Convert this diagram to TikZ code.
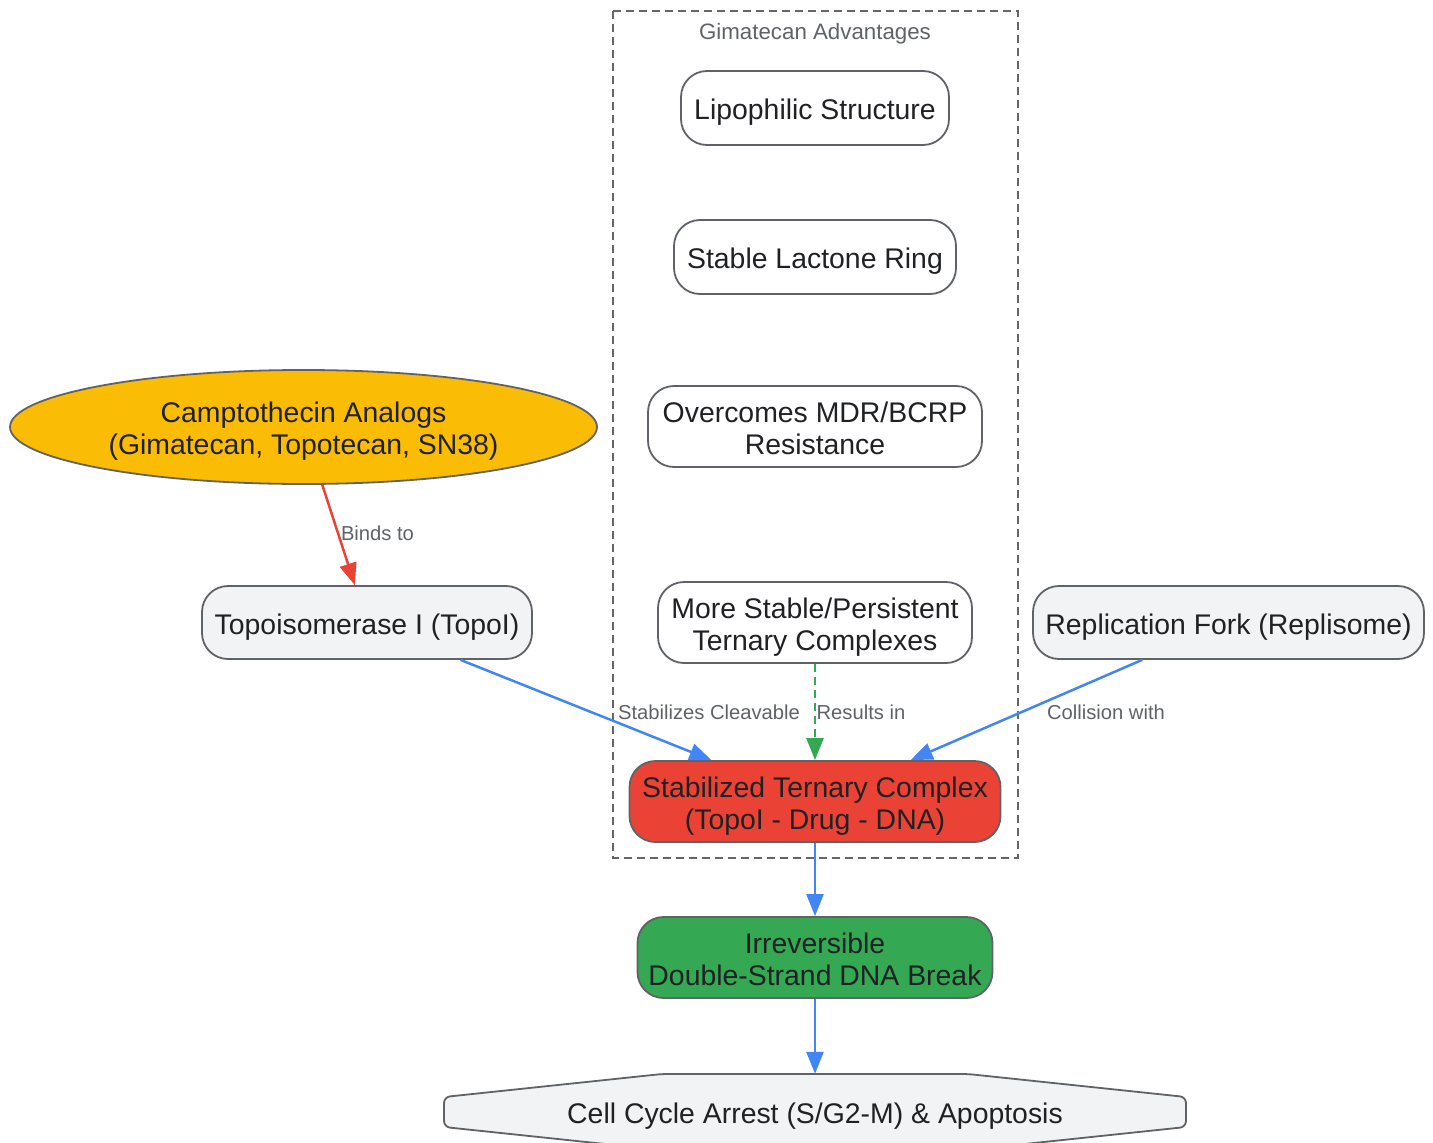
\documentclass[tikz,border=0pt]{standalone}
\usepackage{fontspec}
\setmainfont{Liberation Sans}
\usetikzlibrary{arrows.meta,shapes.geometric}
\definecolor{bordergray}{HTML}{5F6368}
\definecolor{textdark}{HTML}{202124}
\definecolor{lightfill}{HTML}{F1F3F4}
\definecolor{gred}{HTML}{EA4335}
\definecolor{gblue}{HTML}{4285F4}
\definecolor{ggreen}{HTML}{34A853}
\definecolor{gyellow}{HTML}{FABC05}
\definecolor{clustergray}{HTML}{666666}
\newcommand\dn[1]{\raisebox{-5.5pt}[\height][\depth]{\begin{tabular}{@{}c@{}}#1\end{tabular}}}
\begin{document}
\begin{tikzpicture}[x=1pt,y=-1pt,
  box/.style={draw=bordergray, line width=1.8pt, rounded corners=26pt, align=center,
    inner sep=0pt, text=textdark, font=\fontsize{28.4}{32}\selectfont},
  oval/.style={ellipse, draw=bordergray, line width=1.8pt, align=center, inner sep=0pt,
    text=textdark, font=\fontsize{28.4}{32}\selectfont},
  lbl/.style={text=bordergray, font=\fontsize{20.2}{24}\selectfont, inner sep=0pt},
  conn/.style={line width=2.5pt, -{Triangle[length=22pt,width=17pt]}},
  dashconn/.style={conn, dash pattern=on 8pt off 5pt},
]
\useasboundingbox (0,0) rectangle (1433,1143);

% cluster
\draw[clustergray, line width=1.8pt, dash pattern=on 8pt off 5pt] (613,11) rectangle (1018,858);
\node[text=bordergray, font=\fontsize{22.3}{26}\selectfont, inner sep=0pt] (clusterlabel) at (815,33.5) {Gimatecan Advantages};

% nodes
\node[box, fill=white, minimum width=268, minimum height=74] (lip) at (815,108) {\dn{Lipophilic Structure}};
\node[box, fill=white, minimum width=282, minimum height=74] (lac) at (815,257) {\dn{Stable Lactone Ring}};
\node[box, fill=white, minimum width=334, minimum height=81] (mdr) at (815,426.5) {\dn{Overcomes MDR/BCRP\\Resistance}};
\node[box, fill=white, minimum width=314, minimum height=81] (pers) at (815,622.5) {\dn{More Stable/Persistent\\Ternary Complexes}};
\node[oval, fill=gyellow, minimum width=587, minimum height=114] (cpt) at (303.5,427) {\dn{Camptothecin Analogs\\(Gimatecan, Topotecan, SN38)}};
\node[box, fill=lightfill, minimum width=330, minimum height=73] (topo) at (367,622.5) {\dn{Topoisomerase I (TopoI)}};
\node[box, fill=lightfill, minimum width=391, minimum height=73] (rep) at (1228.5,622.5) {\dn{Replication Fork (Replisome)}};
\node[box, fill=gred, minimum width=371, minimum height=81] (stc) at (815,801.5) {\dn{Stabilized Ternary Complex\\(TopoI - Drug - DNA)}};
\node[box, fill=ggreen, minimum width=355, minimum height=81] (dsb) at (815,957.5) {\dn{Irreversible\\Double-Strand DNA Break}};

% hexagon
\draw[draw=bordergray, fill=lightfill, line width=1.8pt, rounded corners=6pt]
  (662,1074) -- (968,1074) -- (1186,1097) -- (1186,1127) -- (968,1150) -- (662,1150) -- (444,1127) -- (444,1097) -- cycle;
\node[text=textdark, font=\fontsize{28.4}{32}\selectfont, inner sep=0pt, minimum width=742, minimum height=76] (arr) at (815,1112) {\dn{Cell Cycle Arrest (S/G2-M) \& Apoptosis}};

% connectors
\draw[conn, gred] (cpt) -- (topo);
\draw[conn, gblue] (topo) -- (stc);
\draw[dashconn, ggreen] (pers) -- (stc);
\draw[conn, gblue] (rep) -- (stc);
\draw[conn, gblue] (stc) -- (dsb);
\draw[conn, gblue] (dsb) -- (arr.north);

% labels
\node[lbl] (l1) at (377.5,533) {Binds to};
\node[lbl] (l2) at (709,712) {Stabilizes Cleavable};
\node[lbl] (l3) at (861,712) {Results in};
\node[lbl] (l4) at (1106,712) {Collision with};
\end{tikzpicture}
\end{document}
